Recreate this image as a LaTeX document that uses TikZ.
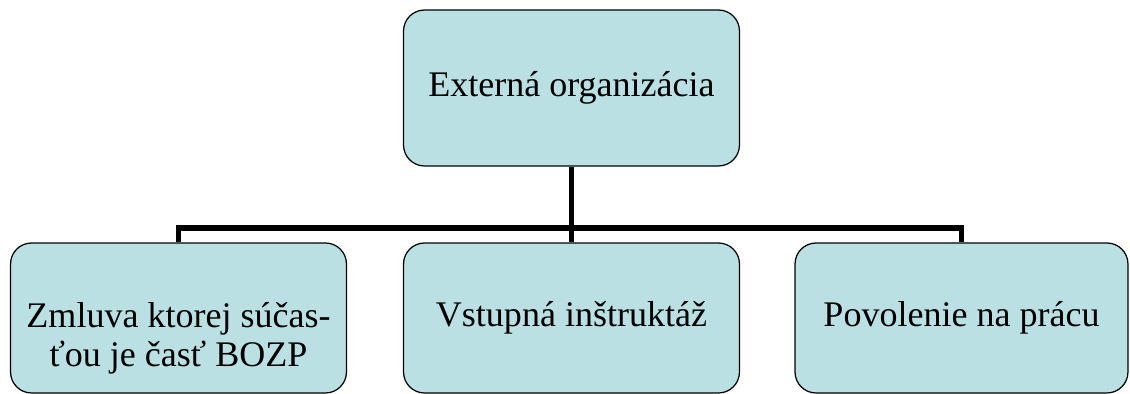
\documentclass[tikz,border=0pt]{standalone}
\usepackage{fontspec}
\setmainfont{Liberation Serif}
\usetikzlibrary{shapes}

\definecolor{boxfill}{RGB}{187,224,227}

\begin{document}
\begin{tikzpicture}[x=0.02cm, y=-0.02cm,
    box/.style={draw, fill=boxfill, line width=0.7pt, rounded corners=0.42cm,
        minimum width=6.72cm, align=center, inner sep=0pt,
        font=\fontsize{20.5}{22.7}\selectfont},
    link/.style={line width=3.3pt}]

    \useasboundingbox (0,0) rectangle (1130,394);

    \coordinate (bus) at (571.5,228);

    \draw(571.5,88) node[box, minimum height=3.12cm] (top) {Externá organizácia};
    \draw(178.5,318) node[box, minimum height=3cm, text height=2.0cm, text depth=0.04cm] (left) {Zmluva ktorej súčas-\\ťou je časť BOZP};
    \draw(571.5,318) node[box, minimum height=3cm] (mid) {Vstupná inštruktáž};
    \draw(961.5,318) node[box, minimum height=3cm, minimum width=6.66cm] (right) {Povolenie na prácu};

    \draw[link] (top) -- (mid);
    \draw[link] (left.north) |- (bus) -| (right.north);

\end{tikzpicture}
\end{document}
